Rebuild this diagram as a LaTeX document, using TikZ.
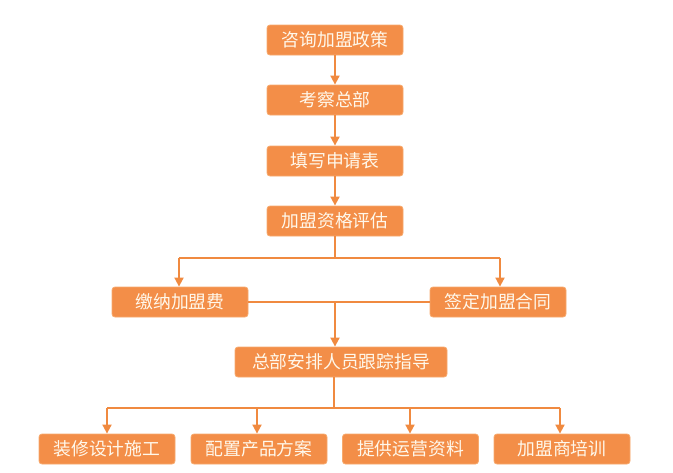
\documentclass[tikz,border=0pt]{standalone}
\usepackage{fontspec}
\setmainfont{Noto Sans CJK SC}
\usetikzlibrary{arrows.meta}
\definecolor{boxfill}{RGB}{243,142,72}
\definecolor{boxline}{RGB}{247,170,110}
\definecolor{linecol}{RGB}{240,138,64}
\definecolor{txtcol}{RGB}{255,248,235}
\begin{document}
\begin{tikzpicture}[x=1pt,y=-1pt,
  stepbox/.style={draw=boxline,line width=0.8pt,fill=boxfill,rounded corners=3pt,
    minimum width=136pt,minimum height=30pt,inner sep=0pt,text=txtcol,
    font=\fontsize{17.8}{19}\selectfont},
  conn/.style={draw=linecol,line width=1.8pt},
  arr/.style={conn,-{Triangle[length=9pt,width=9pt]}}]
\useasboundingbox (0,0) rectangle (673,472);
\node[stepbox] (b1) at (335,40) {咨询加盟政策};
\node[stepbox] (b2) at (335,100) {考察总部};
\node[stepbox] (b3) at (335,161) {填写申请表};
\node[stepbox] (b4) at (335,221) {加盟资格评估};
\node[stepbox] (l) at (180,302) {缴纳加盟费};
\node[stepbox] (r) at (498,302) {签定加盟合同};
\node[stepbox,minimum width=212pt] (m) at (341,362) {总部安排人员跟踪指导};
\node[stepbox] (c1) at (107,449) {装修设计施工};
\node[stepbox] (c2) at (259,449) {配置产品方案};
\node[stepbox] (c3) at (410.5,449) {提供运营资料};
\node[stepbox] (c4) at (562,449) {加盟商培训};
\coordinate (j1) at (335,258);
\coordinate (j1l) at (179,258);
\coordinate (j1r) at (500,258);
\coordinate (j2) at (335,302);
\coordinate (j3) at (334,408);
\coordinate (k1) at (107,408);
\coordinate (k2) at (257,408);
\coordinate (k3) at (410,408);
\coordinate (k4) at (560,408);
\draw[arr] (b1) -- (b2);
\draw[arr] (b2) -- (b3);
\draw[arr] (b3) -- (b4);
\draw[conn] (b4.south) -- (j1);
\draw[conn] (j1l) -- (j1r);
\draw[arr] (j1l) -- (j1l |- l.north);
\draw[arr] (j1r) -- (j1r |- r.north);
\draw[conn] (l.east) -- (r.west);
\draw[arr] (j2) -- (j2 |- m.north);
\draw[conn] (j3 |- m.south) -- (j3);
\draw[conn] (k1) -- (k4);
\draw[arr] (k1) -- (c1.north);
\draw[arr] (k2) -- (k2 |- c2.north);
\draw[arr] (k3) -- (k3 |- c3.north);
\draw[arr] (k4) -- (k4 |- c4.north);
\end{tikzpicture}
\end{document}
